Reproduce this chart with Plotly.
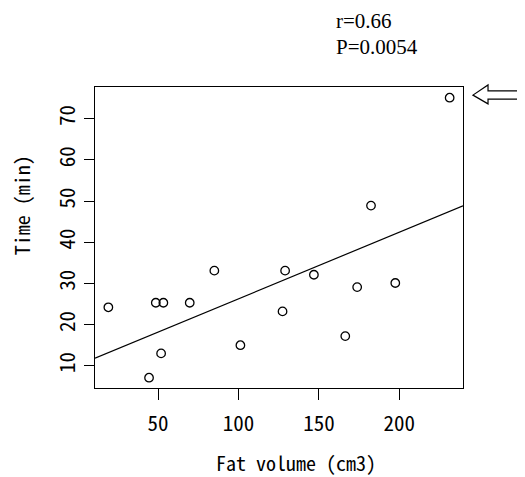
import numpy as np
import plotly.graph_objects as go

# Data
fat_volume = [19.1, 48.6, 53.3, 69.7, 85.0, 51.9, 44.4, 101.2, 127.4, 129.0,
              146.9, 166.4, 173.8, 182.4, 197.5, 231.3]
time_min = [24.2, 25.3, 25.3, 25.3, 33.1, 13.0, 7.1, 15.0, 23.2, 33.1,
            32.1, 17.2, 29.1, 48.9, 30.1, 75.1]
x_ticks = [50, 100, 150, 200]
y_ticks = [10, 20, 30, 40, 50, 60, 70]
x_range = [10.8, 239.6]
y_range = [4.6, 77.7]
stats_text = ["r=0.66", "P=0.0054"]

slope, intercept = np.polyfit(fat_volume, time_min, 1)
fit_x = np.array(x_range)
fit_y = intercept + slope * fit_x

MONO = "Noto Sans Mono CJK JP, Noto Sans CJK JP, DejaVu Sans Mono, monospace"
SERIF = "Liberation Serif, Times New Roman, serif"

fig = go.Figure()
fig.add_trace(go.Scatter(x=fit_x, y=fit_y, mode="lines",
                         line=dict(color="black", width=1.2),
                         showlegend=False, hoverinfo="skip"))
fig.add_trace(go.Scatter(x=fat_volume, y=time_min, mode="markers",
                         marker=dict(symbol="circle-open", size=8.5,
                                     color="black", line=dict(width=1.3)),
                         showlegend=False, cliponaxis=False))

# the page body adds an 8px offset, so the figure is 8px smaller
fig.update_layout(
    width=517, height=469,
    margin=dict(l=87, r=62, t=79, b=89),
    paper_bgcolor="white", plot_bgcolor="white",
    font=dict(family=MONO, color="black", size=20),
)
fig.update_xaxes(range=x_range, tickvals=x_ticks, ticks="outside", ticklen=11,
                 tickcolor="black", tickwidth=1, showline=True, linecolor="black",
                 linewidth=1, mirror=True, showgrid=False, zeroline=False,
                 tickfont=dict(family=MONO, size=21), ticklabelstandoff=6)
fig.update_yaxes(range=y_range, tickvals=y_ticks, ticks="outside", ticklen=10,
                 tickcolor="black", tickwidth=1, showline=True, linecolor="black",
                 linewidth=1, mirror=True, showgrid=False, zeroline=False,
                 tickangle=-90, tickfont=dict(family=MONO, size=21),
                 ticklabelstandoff=1)

# axis titles
fig.add_annotation(text="Fat volume (cm3)", xref="paper", yref="paper",
                   x=0.546, y=-0.247, xanchor="center", yanchor="middle",
                   showarrow=False, borderpad=0, font=dict(family=MONO, size=20))
fig.add_annotation(text="Time (min)", xref="paper", yref="paper",
                   x=-0.198, y=0.608, xanchor="center", yanchor="middle",
                   textangle=-90, showarrow=False, borderpad=0,
                   font=dict(family=MONO, size=20))

# statistics text
fig.add_annotation(text=stats_text[0], xref="paper", yref="paper",
                   x=0.649, y=1.22, xanchor="left", yanchor="middle",
                   showarrow=False, font=dict(family=SERIF, size=21))
fig.add_annotation(text=stats_text[1], xref="paper", yref="paper",
                   x=0.649, y=1.134, xanchor="left", yanchor="middle",
                   showarrow=False, font=dict(family=SERIF, size=21))

# hollow arrow pointing at the outlier
fig.add_shape(type="path", xref="paper", yref="paper",
              path="M 1.027 0.973 L 1.068 1.007 L 1.068 0.987 L 1.25 0.987 "
                   "L 1.25 0.960 L 1.068 0.960 L 1.068 0.944 Z",
              line=dict(color="black", width=1.2), fillcolor="white")

fig.write_html("out.html")
